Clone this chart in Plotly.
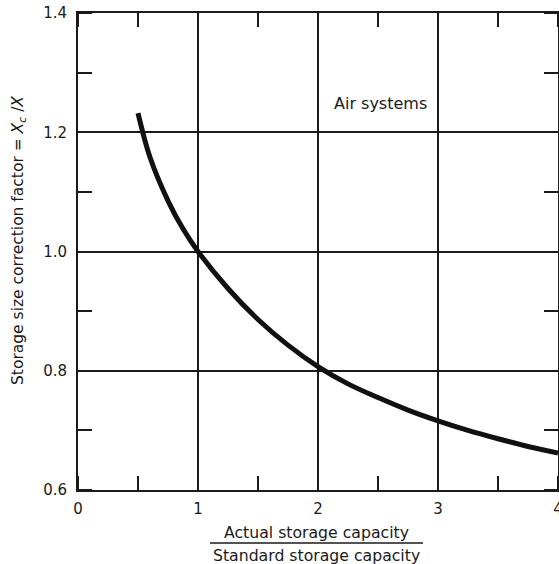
import plotly.graph_objects as go

# ---------------------------------------------------------------------------
# DATA
ratio = [0.5, 0.6, 0.75, 0.875, 1.0, 1.25, 1.5, 1.75, 2.0, 2.25, 2.5, 2.75, 3.0, 3.25, 3.5, 3.75, 4.0]
factor = [1.232, 1.158, 1.085, 1.038, 1.0, 0.938, 0.886, 0.843, 0.807, 0.778, 0.755, 0.734,
          0.716, 0.700, 0.686, 0.673, 0.662]

x_ticks = [0, 1, 2, 3, 4]
y_ticks = [0.6, 0.8, 1.0, 1.2, 1.4]

curve_label = "Air systems"
y_title = "Storage size correction factor = <i>X<sub>c</sub></i> /<i>X</i>"
x_title_top = "Actual storage capacity"
x_title_bottom = "Standard storage capacity"

# ---------------------------------------------------------------------------
# STYLE
W, H = 559, 564
ml, mr, mt, mb = 78, 1, 13, 74
ink = "#1a1a1a"
font = "DejaVu Sans"

fig = go.Figure()
fig.add_trace(go.Scatter(x=ratio, y=factor, mode="lines",
                         line=dict(color="#111111", width=5, shape="spline", smoothing=1.0),
                         showlegend=False, hoverinfo="skip"))

axis_common = dict(showline=True, linecolor=ink, linewidth=2, mirror="ticks",
                   showgrid=True, gridcolor=ink, gridwidth=1.5, zeroline=False,
                   ticks="", automargin=False, ticklabeloverflow="allow",
                   tickfont=dict(family=font, size=15, color=ink))

fig.update_xaxes(range=[0, 4], tickvals=x_ticks, ticklabelstandoff=4,
                 minor=dict(ticks="inside", ticklen=14, tickwidth=1.5, tickcolor=ink,
                            dtick=0.5, tick0=0, showgrid=False),
                 **axis_common)
fig.update_yaxes(range=[0.6, 1.4], tickvals=y_ticks, tickformat=".1f", ticklabelstandoff=6,
                 minor=dict(ticks="inside", ticklen=14, tickwidth=1.5, tickcolor=ink,
                            dtick=0.1, tick0=0.6, showgrid=False),
                 **axis_common)

# page-pixel helpers for text placement (relative to the plot area)
pw = W - ml - mr
ph = H - mt - mb
def px_x(p):
    return (p - ml) / pw
def px_y(p):
    return 1 - (p - mt) / ph

fig.add_annotation(x=2.52, y=1.249, xref="x", yref="y", text=curve_label,
                   showarrow=False, font=dict(family=font, size=16, color=ink))
fig.add_annotation(x=px_x(19), y=px_y(241), xref="paper", yref="paper", text=y_title,
                   textangle=-90, showarrow=False, xanchor="center", yanchor="middle",
                   font=dict(family=font, size=15.5, color=ink))
fig.add_annotation(x=px_x(316), y=px_y(532), xref="paper", yref="paper", text=x_title_top,
                   showarrow=False, xanchor="center", yanchor="middle",
                   font=dict(family=font, size=15.7, color=ink))
fig.add_annotation(x=px_x(316), y=px_y(555), xref="paper", yref="paper", text=x_title_bottom,
                   showarrow=False, xanchor="center", yanchor="middle",
                   font=dict(family=font, size=15.7, color=ink))
# fraction bar
fig.add_shape(type="line", xref="paper", yref="paper",
              x0=px_x(210), x1=px_x(423), y0=px_y(543), y1=px_y(543),
              line=dict(color=ink, width=1.5))

fig.update_layout(width=W, height=H, margin=dict(l=ml, r=mr, t=mt, b=mb),
                  plot_bgcolor="white", paper_bgcolor="white", showlegend=False)

# drop the default 8px body margin so the figure sits at the window corner
fig.write_html("out.html", config={"displayModeBar": False},
               post_script="document.body.style.margin='0';")
